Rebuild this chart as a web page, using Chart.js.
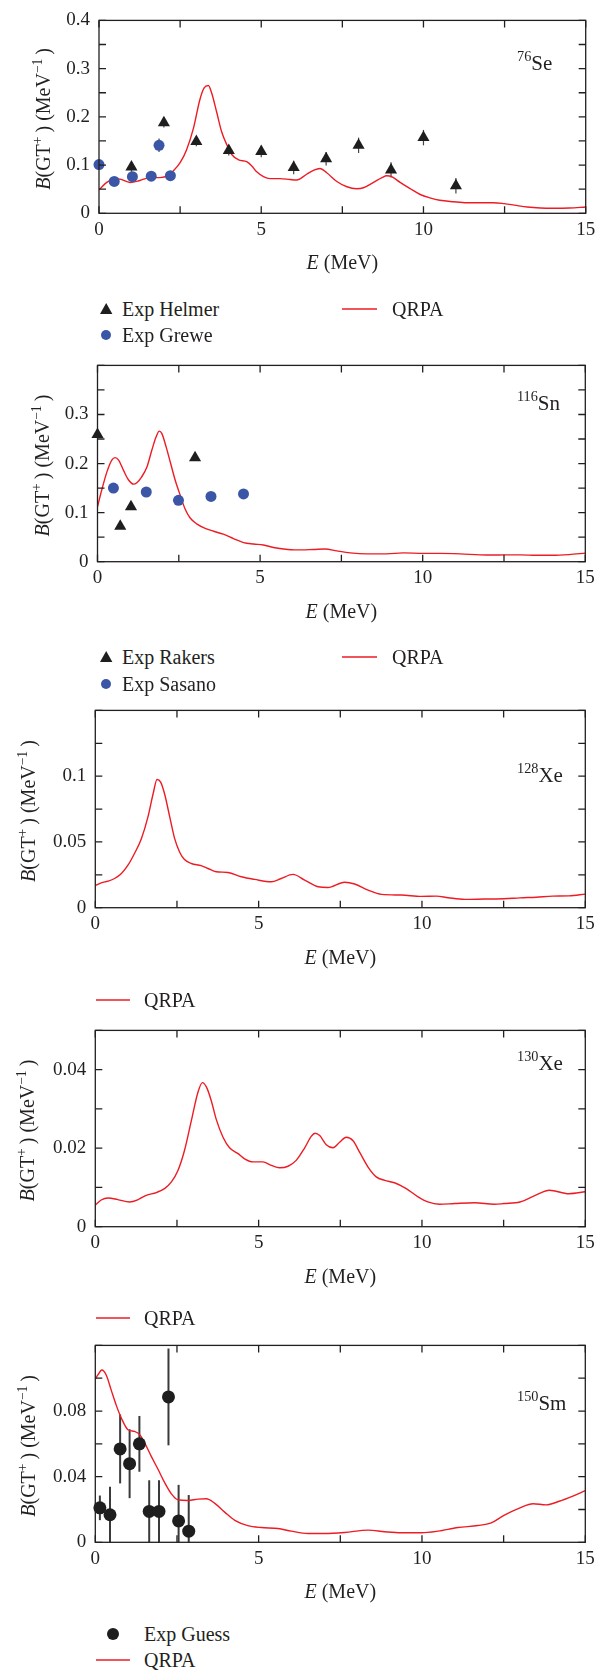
<!DOCTYPE html>
<html>
<head>
<meta charset="utf-8">
<script src="https://cdn.jsdelivr.net/npm/chart.js@4.4.1/dist/chart.umd.min.js"></script>
<style>
body { margin: 0; background: #fff; }
#page { position: relative; width: 612px; height: 1672px; overflow: hidden; font-family: "Liberation Serif", Tinos, "Times New Roman", "DejaVu Serif", serif; color: #231f20; }
.panel { position: absolute; left: 0; }
.lg { position: absolute; font-size: 20px; line-height: 20px; white-space: nowrap; transform: translateY(-50%); }
.mk { position: absolute; overflow: visible; }
</style>
</head>
<body>
<div id="page"></div>
<script>
// 76Se
const se76HelmerE = [1, 2, 3, 4, 5, 6, 7, 8, 9, 10, 11];
const se76HelmerB = [0.096, 0.188, 0.149, 0.130, 0.128, 0.095, 0.113, 0.141, 0.090, 0.157, 0.057];
const se76HelmerErr = [0.01, 0.01, 0.01, 0.01, 0.012, 0.014, 0.014, 0.016, 0.016, 0.016, 0.016];
const se76GreweE = [0, 0.47, 1.03, 1.61, 1.85, 2.2];
const se76GreweB = [0.101, 0.066, 0.076, 0.077, 0.141, 0.078];
const se76GreweErr = [0.004, 0.004, 0.005, 0.005, 0.014, 0.004];
const se76QrpaE = [0, 0.24, 0.47, 0.65, 0.96, 1.26, 1.57, 1.88, 2.14, 2.29, 2.5, 2.7, 2.91, 3.11, 3.24, 3.37, 3.47, 3.63, 3.78, 3.94, 4.09, 4.3, 4.55, 4.71, 4.86, 5.07, 5.27, 5.58, 5.89, 6.09, 6.4, 6.61, 6.81, 7.02, 7.33, 7.64, 7.94, 8.15, 8.46, 8.72, 8.87, 9.02, 9.28, 9.59, 9.9, 10.2, 10.5, 10.92, 11.34, 11.75, 12.16, 12.49, 12.8, 13.2, 13.6, 14.0, 14.5, 15];
const se76QrpaB = [0.049, 0.064, 0.072, 0.071, 0.064, 0.068, 0.074, 0.074, 0.079, 0.088, 0.105, 0.132, 0.176, 0.236, 0.260, 0.265, 0.250, 0.209, 0.169, 0.142, 0.122, 0.111, 0.107, 0.098, 0.086, 0.076, 0.072, 0.072, 0.070, 0.069, 0.081, 0.089, 0.093, 0.084, 0.066, 0.055, 0.051, 0.053, 0.064, 0.074, 0.078, 0.076, 0.064, 0.051, 0.039, 0.032, 0.027, 0.024, 0.022, 0.022, 0.022, 0.020, 0.017, 0.013, 0.011, 0.0105, 0.011, 0.013];

// 116Sn
const sn116RakersE = [0, 0.70, 1.03, 3.0];
const sn116RakersB = [0.259, 0.072, 0.112, 0.212];
const sn116SasanoE = [0.49, 1.5, 2.49, 3.49, 4.49];
const sn116SasanoB = [0.150, 0.142, 0.125, 0.133, 0.138];
const sn116QrpaE = [0, 0.13, 0.29, 0.44, 0.54, 0.65, 0.8, 0.95, 1.11, 1.21, 1.36, 1.52, 1.67, 1.8, 1.9, 1.98, 2.11, 2.25, 2.39, 2.54, 2.69, 2.85, 3.05, 3.31, 3.57, 3.87, 4.18, 4.49, 4.8, 5.1, 5.41, 5.72, 6.13, 6.64, 7.0, 7.36, 7.77, 8.28, 8.89, 9.4, 10.02, 10.53, 11.15, 11.76, 12.17, 12.5, 13.0, 13.5, 14.0, 14.5, 15];
const sn116QrpaB = [0.112, 0.146, 0.183, 0.207, 0.212, 0.207, 0.186, 0.167, 0.158, 0.161, 0.173, 0.193, 0.227, 0.254, 0.266, 0.261, 0.234, 0.200, 0.166, 0.136, 0.108, 0.089, 0.077, 0.068, 0.062, 0.056, 0.047, 0.039, 0.036, 0.034, 0.029, 0.026, 0.024, 0.025, 0.026, 0.022, 0.018, 0.016, 0.016, 0.018, 0.017, 0.017, 0.016, 0.014, 0.0135, 0.014, 0.014, 0.013, 0.013, 0.0145, 0.0175];

// 128Xe
const xe128QrpaE = [0, 0.18, 0.39, 0.59, 0.8, 1.0, 1.2, 1.41, 1.61, 1.77, 1.89, 2.0, 2.12, 2.28, 2.43, 2.58, 2.73, 2.94, 3.24, 3.45, 3.7, 4.06, 4.47, 4.88, 5.39, 5.69, 6.05, 6.41, 6.82, 7.12, 7.63, 7.94, 8.35, 8.76, 9.37, 9.98, 10.44, 10.8, 11.31, 11.92, 12.51, 13.0, 13.5, 14.0, 14.5, 15];
const xe128QrpaB = [0.0167, 0.0189, 0.0202, 0.0222, 0.026, 0.0323, 0.0412, 0.0525, 0.0689, 0.0866, 0.0975, 0.0955, 0.0866, 0.0689, 0.0525, 0.0424, 0.0366, 0.0336, 0.032, 0.0298, 0.0273, 0.0268, 0.0235, 0.0215, 0.0197, 0.0222, 0.0253, 0.021, 0.0159, 0.0154, 0.0194, 0.018, 0.0134, 0.0101, 0.0096, 0.0086, 0.0088, 0.0076, 0.0063, 0.0066, 0.0068, 0.0075, 0.008, 0.0088, 0.009, 0.0103];

// 130Xe
const xe130QrpaE = [0, 0.18, 0.39, 0.69, 1.05, 1.31, 1.56, 1.87, 2.12, 2.33, 2.53, 2.73, 2.94, 3.14, 3.28, 3.4, 3.55, 3.7, 3.91, 4.11, 4.37, 4.57, 4.83, 5.13, 5.39, 5.64, 5.9, 6.15, 6.41, 6.61, 6.73, 6.87, 7.07, 7.28, 7.48, 7.68, 7.89, 8.09, 8.35, 8.6, 8.86, 9.16, 9.52, 9.88, 10.18, 10.54, 11.0, 11.61, 12.22, 12.51, 13.0, 13.5, 13.9, 14.5, 15];
const xe130QrpaB = [0.0055, 0.0068, 0.0073, 0.0069, 0.0063, 0.0069, 0.008, 0.0087, 0.0097, 0.0114, 0.0143, 0.0194, 0.027, 0.0342, 0.0367, 0.0356, 0.0321, 0.0274, 0.0228, 0.0201, 0.0186, 0.0173, 0.0165, 0.0165, 0.0156, 0.015, 0.0154, 0.0169, 0.0201, 0.023, 0.0238, 0.0232, 0.0209, 0.0201, 0.0215, 0.0228, 0.0219, 0.019, 0.0152, 0.0127, 0.0118, 0.0112, 0.0097, 0.0076, 0.0063, 0.0057, 0.0059, 0.0061, 0.0057, 0.0059, 0.0063, 0.0081, 0.0093, 0.0084, 0.0089];

// 150Sm
const sm150GuessE = [0.14, 0.45, 0.76, 1.05, 1.35, 1.65, 1.95, 2.24, 2.55, 2.86];
const sm150GuessB = [0.021, 0.0168, 0.0569, 0.0479, 0.060, 0.0188, 0.0188, 0.0886, 0.013, 0.0068];
const sm150GuessErr = [0.0075, 0.017, 0.021, 0.021, 0.017, 0.019, 0.019, 0.0295, 0.022, 0.022];
const sm150QrpaE = [0, 0.08, 0.2, 0.34, 0.49, 0.64, 0.8, 1.0, 1.2, 1.36, 1.51, 1.71, 1.92, 2.12, 2.33, 2.53, 2.84, 3.14, 3.4, 3.65, 3.96, 4.27, 4.67, 5.08, 5.59, 6.0, 6.51, 7.02, 7.63, 8.35, 8.86, 9.37, 9.98, 10.49, 11.1, 11.71, 12.12, 12.51, 13.0, 13.4, 13.8, 14.2, 14.6, 15];
const sm150QrpaB = [0.0996, 0.102, 0.105, 0.1017, 0.0926, 0.0836, 0.0756, 0.0686, 0.0676, 0.0656, 0.0606, 0.0525, 0.0445, 0.0365, 0.0295, 0.0259, 0.0255, 0.0263, 0.0265, 0.0239, 0.0184, 0.0134, 0.0102, 0.009, 0.0084, 0.0068, 0.0054, 0.0054, 0.006, 0.0074, 0.0064, 0.0058, 0.0058, 0.0068, 0.009, 0.0102, 0.0118, 0.0164, 0.021, 0.0235, 0.0228, 0.025, 0.028, 0.0315];

const xTicks = [0, 5, 10, 15];

const FONT = '"Liberation Serif", Tinos, "Times New Roman", "DejaVu Serif", serif';
const INK = '#231f20';
const RED = '#ed1c24';
const BLUE = '#3b56a6';
const BLACK = '#1e1e1e';

function pts(E, B) {
    return E.map((e, i) => ({x: e, y: B[i]}));
}

function qrpa(E, B) {
    return {data: pts(E, B), showLine: true, borderColor: RED, borderWidth: 1.4, pointRadius: 0,
        cubicInterpolationMode: 'monotone', fill: false, order: 2};
}

function marks(E, B, style, color, radius, errors) {
    return {data: pts(E, B), showLine: false, pointStyle: style, pointRadius: radius,
        pointBackgroundColor: color, pointBorderWidth: 0, backgroundColor: color, borderColor: color,
        clip: false, errors: errors, order: 1};
}

function drawRich(ctx, parts, x, y, size, align) {
    const fontFor = p => (p.i ? 'italic ' : '') + (p.s ? size * 0.68 : size) + 'px ' + FONT;
    let w = 0;
    const widths = parts.map(p => { ctx.font = fontFor(p); const pw = ctx.measureText(p.t).width; w += pw; return pw; });
    let cx = align === 'center' ? x - w / 2 : (align === 'right' ? x - w : x);
    ctx.textAlign = 'left';
    ctx.textBaseline = 'alphabetic';
    parts.forEach((p, k) => {
        ctx.font = fontFor(p);
        ctx.fillText(p.t, cx, p.s ? y - size * 0.42 : y);
        cx += widths[k];
    });
}

function framePlugin(p) {
    return {
        id: 'frame',
        beforeDatasetsDraw(chart) {
            const ctx = chart.ctx;
            const ys = chart.scales.y;
            chart.data.datasets.forEach((ds, i) => {
                if (!ds.errors) return;
                const meta = chart.getDatasetMeta(i);
                ctx.save();
                ctx.strokeStyle = p.errColor || '#333';
                ctx.lineWidth = p.errWidth || 1.4;
                ds.data.forEach((d, j) => {
                    const el = meta.data[j];
                    const y1 = Math.max(ys.getPixelForValue(d.y + ds.errors[j]), chart.chartArea.top);
                    const y2 = Math.min(ys.getPixelForValue(d.y - ds.errors[j]), chart.chartArea.bottom);
                    ctx.beginPath();
                    ctx.moveTo(el.x, y1);
                    ctx.lineTo(el.x, y2);
                    ctx.stroke();
                });
                ctx.restore();
            });
        },
        afterDraw(chart) {
            const ctx = chart.ctx;
            const a = chart.chartArea;
            const xs = chart.scales.x;
            const ys = chart.scales.y;
            ctx.save();
            ctx.strokeStyle = INK;
            ctx.lineWidth = 1.3;
            ctx.strokeRect(a.left, a.top, a.right - a.left, a.bottom - a.top);
            const tl = 7;
            ctx.beginPath();
            ys.ticks.forEach(t => {
                const py = ys.getPixelForValue(t.value);
                ctx.moveTo(a.left, py); ctx.lineTo(a.left + tl, py);
                ctx.moveTo(a.right, py); ctx.lineTo(a.right - tl, py);
            });
            xs.ticks.forEach(t => {
                const px = xs.getPixelForValue(t.value);
                ctx.moveTo(px, a.bottom); ctx.lineTo(px, a.bottom - tl);
                ctx.moveTo(px, a.top); ctx.lineTo(px, a.top + tl);
            });
            ctx.stroke();

            ctx.fillStyle = INK;
            drawRich(ctx, [{t: 'E', i: 1}, {t: ' (MeV)'}], (a.left + a.right) / 2, a.bottom + 49 + 7, 20, 'center');

            ctx.translate(p.titleX, (a.top + a.bottom) / 2 + 2);
            ctx.rotate(-Math.PI / 2);
            drawRich(ctx, [{t: 'B', i: 1}, {t: '(GT'}, {t: '+', s: 1}, {t: '\u2009) (MeV'}, {t: '\u22121', s: 1}, {t: '\u2009)'}], 0, 7, 20, 'center');
            ctx.restore();

            ctx.save();
            ctx.fillStyle = INK;
            drawRich(ctx, [{t: p.iso[0], s: 1}, {t: p.iso[1]}], 517, p.isoY - p.top, 21, 'left');
            ctx.restore();
        }
    };
}

function yLabel(p) {
    return v => {
        const k = Math.round(v / p.labelStep);
        if (Math.abs(v - k * p.labelStep) > 1e-9 || v > p.labelMax + 1e-9) return '';
        return String(+v.toFixed(3));
    };
}

function makePanel(p) {
    const box = document.createElement('div');
    box.className = 'panel';
    box.style.top = p.top + 'px';
    const cv = document.createElement('canvas');
    cv.width = 612;
    cv.height = p.h;
    cv.style.width = '612px';
    cv.style.height = p.h + 'px';
    box.appendChild(cv);
    document.getElementById('page').appendChild(box);

    const tickFont = {family: FONT, size: 19};
    new Chart(cv, {
        type: 'scatter',
        data: {datasets: p.datasets},
        plugins: [framePlugin(p)],
        options: {
            responsive: false,
            devicePixelRatio: 1,
            animation: false,
            layout: {padding: {top: p.plot.top - p.top, right: 612 - p.plot.right, left: 0, bottom: 0}},
            plugins: {legend: {display: false}, tooltip: {enabled: false}},
            scales: {
                x: {
                    type: 'linear', min: 0, max: 15,
                    ticks: {stepSize: 2.5, autoSkip: false, maxRotation: 0, padding: 5, font: tickFont, color: INK,
                        callback: v => xTicks.includes(v) ? String(v) : ''},
                    grid: {display: false, drawTicks: false},
                    border: {display: false},
                    afterFit: s => { s.height = p.top + p.h - p.plot.bottom; }
                },
                y: {
                    type: 'linear', min: 0, max: p.yMax,
                    ticks: {stepSize: p.yStep, autoSkip: false, padding: 9, font: tickFont, color: INK, callback: yLabel(p)},
                    grid: {display: false, drawTicks: false},
                    border: {display: false},
                    afterFit: s => { s.width = p.plot.left; }
                }
            }
        }
    });
}

makePanel({
    top: 0, h: 285, plot: {left: 99, top: 16.5, right: 585.7, bottom: 213.3},
    yMax: 0.4, yStep: 0.05, labelStep: 0.1, labelMax: 0.4, titleX: 43,
    iso: ['76', 'Se'], isoY: 70, errWidth: 1.2, errColor: '#444',
    datasets: [
        qrpa(se76QrpaE, se76QrpaB),
        marks(se76HelmerE, se76HelmerB, 'triangle', BLACK, 7, se76HelmerErr),
        marks(se76GreweE, se76GreweB, 'circle', BLUE, 5.5, se76GreweErr)
    ]
});

makePanel({
    top: 345, h: 285, plot: {left: 97.5, top: 364.7, right: 585.3, bottom: 561.7},
    yMax: 0.4, yStep: 0.05, labelStep: 0.1, labelMax: 0.3, titleX: 42,
    iso: ['116', 'Sn'], isoY: 410,
    datasets: [
        qrpa(sn116QrpaE, sn116QrpaB),
        marks(sn116RakersE, sn116RakersB, 'triangle', BLACK, 7),
        marks(sn116SasanoE, sn116SasanoB, 'circle', BLUE, 5.5)
    ]
});

makePanel({
    top: 690, h: 290, plot: {left: 95.3, top: 709.7, right: 585.3, bottom: 907.7},
    yMax: 0.15, yStep: 0.025, labelStep: 0.05, labelMax: 0.1, titleX: 28,
    iso: ['128', 'Xe'], isoY: 782,
    datasets: [qrpa(xe128QrpaE, xe128QrpaB)]
});

makePanel({
    top: 1010, h: 290, plot: {left: 95.3, top: 1028.3, right: 585.3, bottom: 1226.7},
    yMax: 0.05, yStep: 0.01, labelStep: 0.02, labelMax: 0.04, titleX: 27,
    iso: ['130', 'Xe'], isoY: 1070,
    datasets: [qrpa(xe130QrpaE, xe130QrpaB)]
});

makePanel({
    top: 1325, h: 295, plot: {left: 95.3, top: 1342.8, right: 585.3, bottom: 1542.3},
    yMax: 0.12, yStep: 0.02, labelStep: 0.04, labelMax: 0.08, titleX: 28,
    iso: ['150', 'Sm'], isoY: 1410, errWidth: 2, errColor: '#3a3a3a',
    datasets: [
        qrpa(sm150QrpaE, sm150QrpaB),
        marks(sm150GuessE, sm150GuessB, 'circle', BLACK, 6.5, sm150GuessErr)
    ]
});

// legends
const page = document.getElementById('page');
function text(label, x, y) {
    const d = document.createElement('div');
    d.className = 'lg';
    d.style.left = x + 'px';
    d.style.top = y + 'px';
    d.textContent = label;
    page.appendChild(d);
}
function svg(inner, x, y, w, h) {
    const s = document.createElementNS('http://www.w3.org/2000/svg', 'svg');
    s.setAttribute('class', 'mk');
    s.setAttribute('width', w);
    s.setAttribute('height', h);
    s.style.left = x + 'px';
    s.style.top = y + 'px';
    s.innerHTML = inner;
    page.appendChild(s);
}
function triangle(cx, cy) {
    svg('<polygon points="6.2,0 12.4,11 0,11" fill="' + BLACK + '"/>', cx - 6.2, cy - 6.5, 13, 12);
}
function dot(cx, cy, r, color) {
    svg('<circle cx="' + r + '" cy="' + r + '" r="' + r + '" fill="' + color + '"/>', cx - r, cy - r, 2 * r, 2 * r);
}
function redLine(x1, x2, cy) {
    svg('<line x1="0" y1="1" x2="' + (x2 - x1) + '" y2="1" stroke="' + RED + '" stroke-width="1.4"/>', x1, cy - 1, x2 - x1, 2);
}

triangle(105.7, 309.3); text('Exp Helmer', 122, 309.3);
dot(105.7, 335, 5, BLUE); text('Exp Grewe', 122, 335);
redLine(342, 377, 309.3); text('QRPA', 392, 309.3);

triangle(105.7, 657); text('Exp Rakers', 122, 657);
dot(105.7, 684, 5, BLUE); text('Exp Sasano', 122, 684);
redLine(342, 377, 657); text('QRPA', 392, 657);

redLine(96, 130, 999.5); text('QRPA', 144, 999.5);
redLine(96, 130, 1318); text('QRPA', 144, 1318);

dot(113, 1633.5, 6, BLACK); text('Exp Guess', 144, 1633.5);
redLine(96, 130, 1660); text('QRPA', 144, 1660);
</script>
</body>
</html>
